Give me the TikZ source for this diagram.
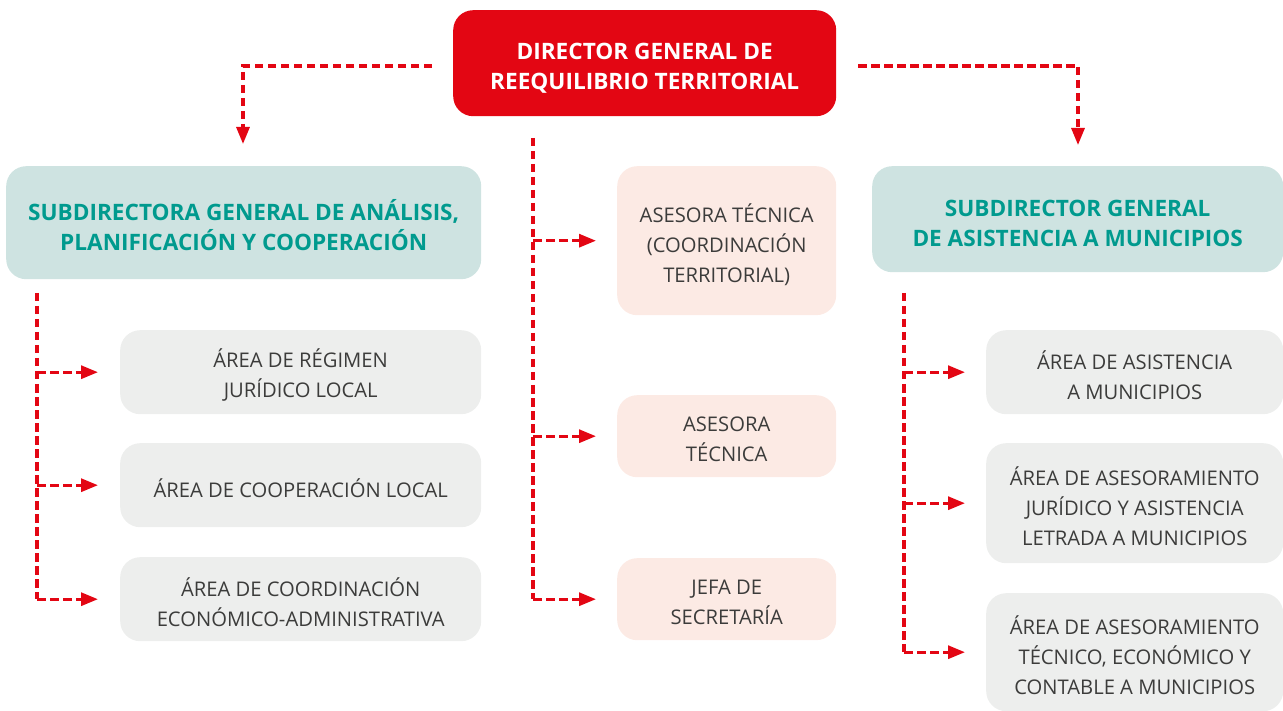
\documentclass[tikz,border=0pt]{standalone}
\usepackage{fontspec}
\setmainfont{Open Sans}
\usetikzlibrary{arrows.meta}
\definecolor{cred}{HTML}{E30613}
\definecolor{cteal}{HTML}{009A8E}
\definecolor{csub}{HTML}{CEE3E1}
\definecolor{cpink}{HTML}{FCEAE4}
\definecolor{cgray}{HTML}{EDEEED}
\definecolor{ctext}{HTML}{3C3C3B}
\tikzset{
  box/.style={rectangle, rounded corners=20pt, inner sep=0pt, anchor=north west},
  boldtext/.style={align=center, inner sep=0pt, font=\fontsize{22.6pt}{30pt}\selectfont\bfseries},
  plaintext/.style={align=center, inner sep=0pt, text=ctext, font=\fontsize{20.2pt}{30pt}\selectfont},
  dirtext/.style={boldtext, text=white, yshift=-5pt},
  subtext/.style={boldtext, text=cteal, yshift=-3pt},
  asctext/.style={plaintext, yshift=-3.5pt},
  areatext/.style={plaintext, yshift=-3pt},
  dirbox/.style={box, fill=cred},
  subbox/.style={box, fill=csub},
  ascbox/.style={box, fill=cpink},
  areabox/.style={box, fill=cgray},
  link/.style={draw=cred, line width=3.1pt, dash pattern=on 8.5pt off 4.5pt},
  arr/.style={link, -{Triangle[width=13pt,length=17pt]}}
}
\begin{document}
\begin{tikzpicture}[x=1pt,y=-1pt]
\useasboundingbox (0,0) rectangle (1283,711);
% boxes
\node[dirbox, minimum width=383pt, minimum height=106pt, label={[dirtext]center:{DIRECTOR GENERAL DE\\REEQUILIBRIO TERRITORIAL}}] (dir) at (453,10) {};
\node[subbox, minimum width=475pt, minimum height=113pt, label={[subtext, yshift=1pt]center:{SUBDIRECTORA GENERAL DE ANÁLISIS,\\PLANIFICACIÓN Y COOPERACIÓN}}] (subL) at (6,166) {};
\node[subbox, minimum width=411pt, minimum height=106pt, label={[subtext, yshift=-1pt]center:{SUBDIRECTOR GENERAL\\DE ASISTENCIA A MUNICIPIOS}}] (subR) at (872,166) {};
\node[ascbox, minimum width=219pt, minimum height=149pt, label={[asctext]center:{ASESORA TÉCNICA\\(COORDINACIÓN\\TERRITORIAL)}}] (asc1) at (617,166) {};
\node[ascbox, minimum width=219pt, minimum height=82pt, label={[asctext]center:{ASESORA\\TÉCNICA}}] (asc2) at (617,395) {};
\node[ascbox, minimum width=219pt, minimum height=82pt, label={[asctext]center:{JEFA DE\\SECRETARÍA}}] (asc3) at (617,558) {};
\node[areabox, minimum width=361pt, minimum height=84pt, label={[areatext]center:{ÁREA DE RÉGIMEN\\JURÍDICO LOCAL}}] (l1) at (120,330) {};
\node[areabox, minimum width=361pt, minimum height=84pt, label={[areatext]center:{ÁREA DE COOPERACIÓN LOCAL}}] (l2) at (120,443) {};
\node[areabox, minimum width=361pt, minimum height=84pt, label={[areatext]center:{ÁREA DE COORDINACIÓN\\ECONÓMICO-ADMINISTRATIVA}}] (l3) at (120,557) {};
\node[areabox, minimum width=297pt, minimum height=84pt, label={[areatext]center:{ÁREA DE ASISTENCIA\\A MUNICIPIOS}}] (r1) at (986,330) {};
\node[areabox, minimum width=297pt, minimum height=120pt, label={[areatext]center:{ÁREA DE ASESORAMIENTO\\JURÍDICO Y ASISTENCIA\\LETRADA A MUNICIPIOS}}] (r2) at (986,443) {};
\node[areabox, minimum width=297pt, minimum height=118pt, label={[areatext]center:{ÁREA DE ASESORAMIENTO\\TÉCNICO, ECONÓMICO Y\\CONTABLE A MUNICIPIOS}}] (r3) at (986,593) {};
% coordinates
\coordinate (dl) at (432,66);
\coordinate (dr) at (858,66);
\coordinate (tipL) at (243,144);
\coordinate (tipR) at (1078,145);
\coordinate (ltop) at (37,293);
\coordinate (ctop) at (533,138);
\coordinate (rtop) at (904,293);
% director links
\draw[arr] (dl) -| (tipL);
\draw[arr] (dr) -| (tipR);
% left column
\draw[link] (ltop) -- (ltop |- l3.west);
\foreach \n in {l1,l2,l3}{\draw[arr] (ltop |- \n.west) -- ([xshift=-22pt]\n.west);}
% centre column
\draw[link] (ctop) -- (ctop |- asc3.west);
\foreach \n in {asc1,asc2,asc3}{\draw[arr] (ctop |- \n.west) -- ([xshift=-21pt]\n.west);}
% right column
\draw[link] (rtop) -- (rtop |- r3.west);
\foreach \n in {r1,r2,r3}{\draw[arr] (rtop |- \n.west) -- ([xshift=-21pt]\n.west);}
\end{tikzpicture}
\end{document}
